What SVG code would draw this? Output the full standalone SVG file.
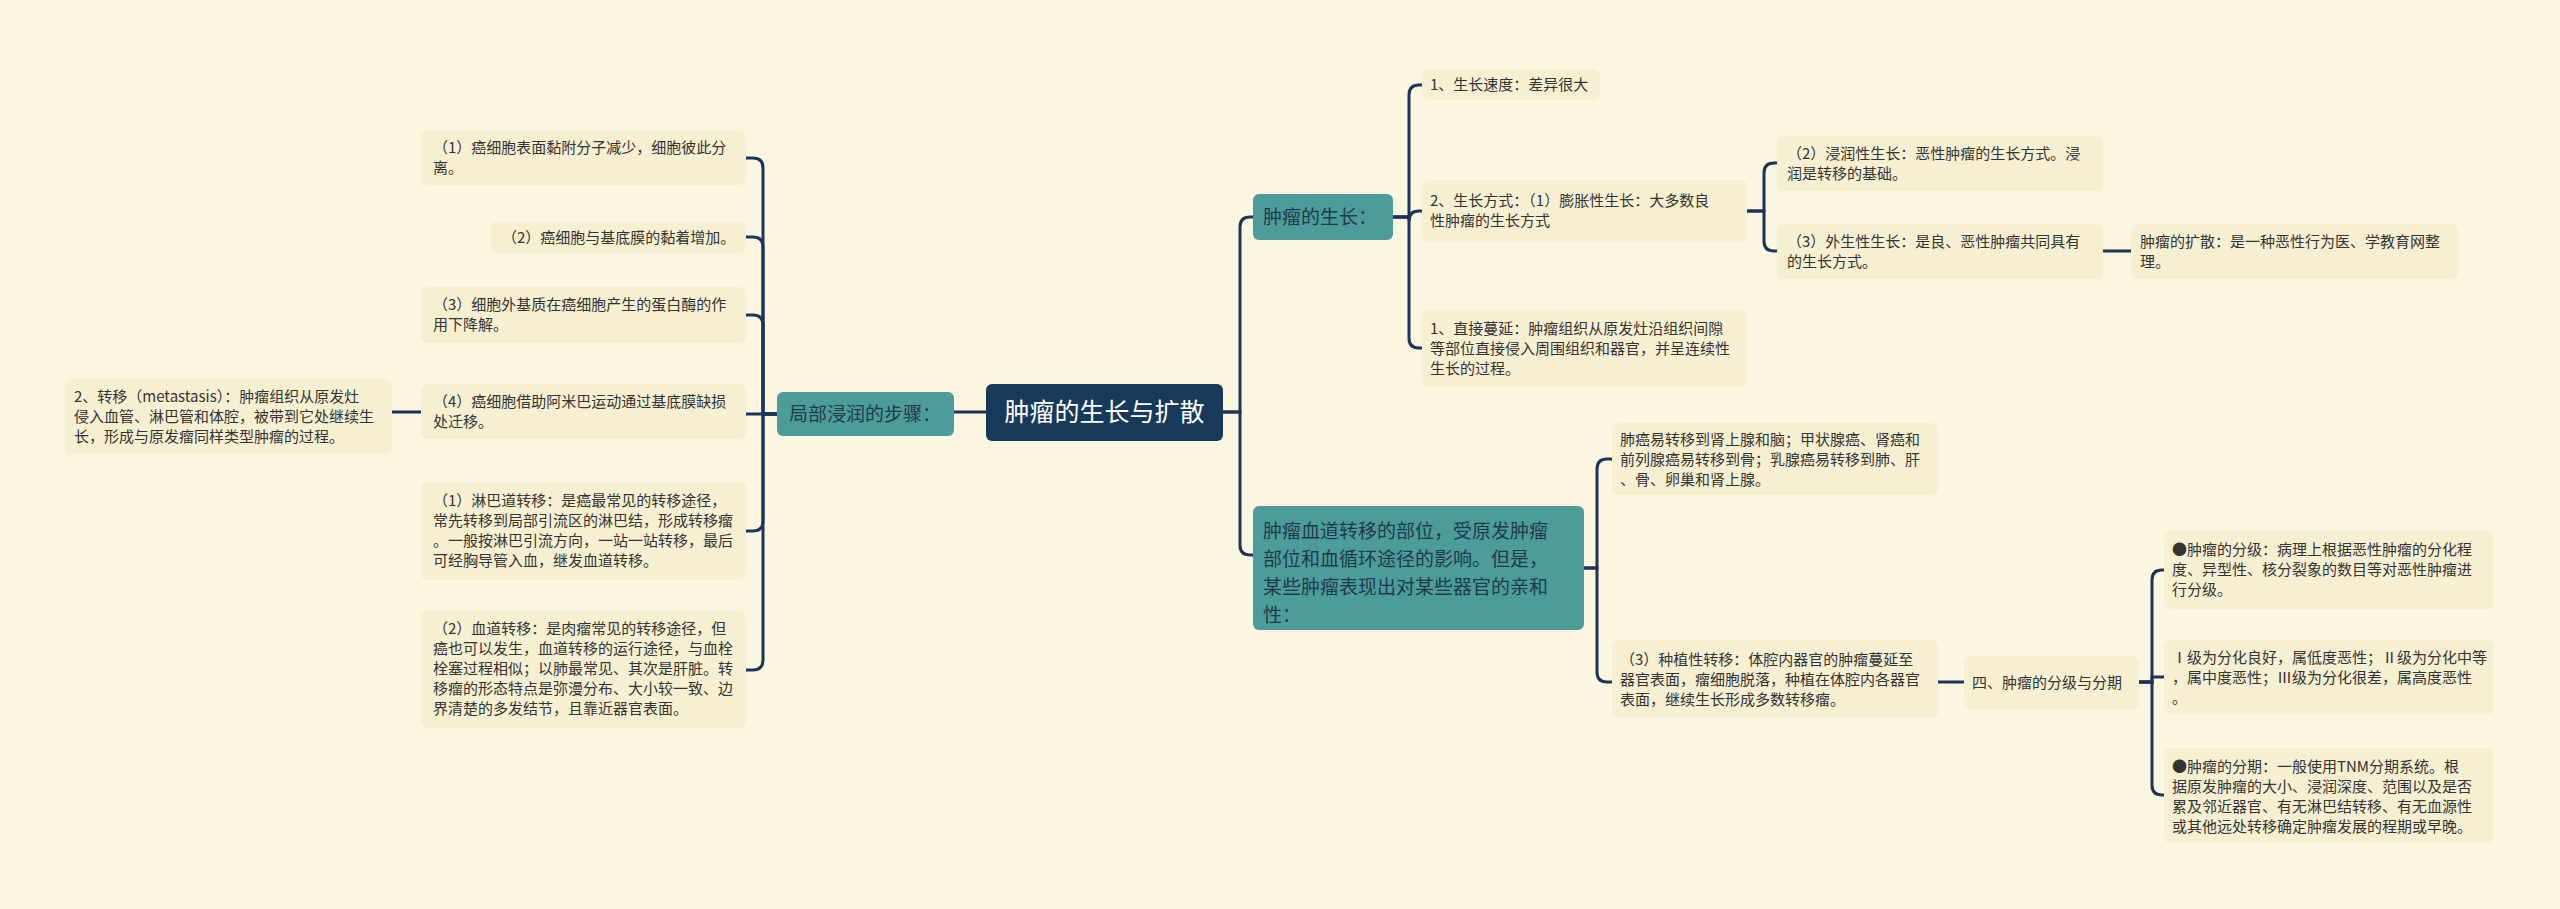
<svg xmlns="http://www.w3.org/2000/svg" width="2560" height="909" viewBox="0 0 2560 909">
<style>
.leaf rect{fill:#f7efd1}
.leaf text{font-family:"Noto Sans CJK SC","Noto Sans",sans-serif;font-size:15px;fill:#333}
.teal rect{fill:#4c9c9c}
.teal text{font-family:"Noto Sans CJK SC","Noto Sans",sans-serif;font-size:19px;fill:#1f3a4a}
.c path{fill:none;stroke:#1c3457;stroke-width:3}
</style>
<rect width="2560" height="909" fill="#fbf6e0"/>
<g class="c">
<path d="M986,412 H954"/>
<path d="M777,414 H763 V168 Q763,158 753,158 H746"/>
<path d="M777,414 H763 V247 Q763,237 753,237 H746"/>
<path d="M777,414 H763 V325 Q763,315 753,315 H746"/>
<path d="M777,414 H746"/>
<path d="M777,414 H763 V521 Q763,531 753,531 H746"/>
<path d="M777,414 H763 V660 Q763,670 753,670 H746"/>
<path d="M421,412 H392"/>
<path d="M1223,412 H1240 V227 Q1240,217 1250,217 H1253"/>
<path d="M1223,412 H1240 V545 Q1240,555 1250,555 H1253"/>
<path d="M1393,217 H1409 V95 Q1409,85 1419,85 H1422"/>
<path d="M1393,217 H1409 V221 Q1409,211 1419,211 H1422"/>
<path d="M1393,217 H1409 V338 Q1409,348 1419,348 H1422"/>
<path d="M1747,211 H1764 V173 Q1764,163 1774,163 H1777"/>
<path d="M1747,211 H1764 V241 Q1764,251 1774,251 H1777"/>
<path d="M2103,251 H2131"/>
<path d="M1584,568 H1597 V469 Q1597,459 1607,459 H1612"/>
<path d="M1584,568 H1597 V672 Q1597,682 1607,682 H1612"/>
<path d="M1938,682 H1964"/>
<path d="M2139,682 H2152 V580 Q2152,570 2162,570 H2164"/>
<path d="M2139,682 H2152 V677 H2164"/>
<path d="M2139,682 H2152 V785 Q2152,795 2162,795 H2164"/>
</g>
<g id="center"><rect x="986" y="384" width="237" height="57" rx="6" fill="#173a5b"/><text x="1104.5" y="421" text-anchor="middle" font-family="Noto Sans CJK SC, Noto Sans, sans-serif" font-size="25" fill="#fff">肿瘤的生长与扩散</text></g>
<g id="jubu" class="teal"><rect x="777" y="392" width="177" height="44" rx="6"/><text x="789" y="421">局部浸润的步骤：</text></g>
<g id="L1" class="leaf"><rect x="421" y="131" width="325" height="54" rx="6"/><text x="433" y="153">（1）癌细胞表面黏附分子减少，细胞彼此分</text><text x="433" y="173">离。</text></g>
<g id="L2" class="leaf"><rect x="490" y="222" width="256" height="31" rx="6"/><text x="502" y="243">（2）癌细胞与基底膜的黏着增加。</text></g>
<g id="L3" class="leaf"><rect x="421" y="287" width="325" height="56" rx="6"/><text x="433" y="310">（3）细胞外基质在癌细胞产生的蛋白酶的作</text><text x="433" y="330">用下降解。</text></g>
<g id="L4" class="leaf"><rect x="421" y="384" width="325" height="55" rx="6"/><text x="433" y="407">（4）癌细胞借助阿米巴运动通过基底膜缺损</text><text x="433" y="427">处迁移。</text></g>
<g id="L5" class="leaf"><rect x="421" y="482" width="325" height="98" rx="6"/><text x="433" y="506">（1）淋巴道转移：是癌最常见的转移途径，</text><text x="433" y="526">常先转移到局部引流区的淋巴结，形成转移瘤</text><text x="433" y="546">。一般按淋巴引流方向，一站一站转移，最后</text><text x="433" y="566">可经胸导管入血，继发血道转移。</text></g>
<g id="L6" class="leaf"><rect x="421" y="611" width="325" height="117" rx="6"/><text x="433" y="634">（2）血道转移：是肉瘤常见的转移途径，但</text><text x="433" y="654">癌也可以发生，血道转移的运行途径，与血栓</text><text x="433" y="674">栓塞过程相似；以肺最常见、其次是肝脏。转</text><text x="433" y="694">移瘤的形态特点是弥漫分布、大小较一致、边</text><text x="433" y="714">界清楚的多发结节，且靠近器官表面。</text></g>
<g id="M" class="leaf"><rect x="65" y="379" width="327" height="75" rx="6"/><text x="74" y="402">2、转移（metastasis）：肿瘤组织从原发灶</text><text x="74" y="422">侵入血管、淋巴管和体腔，被带到它处继续生</text><text x="74" y="442">长，形成与原发瘤同样类型肿瘤的过程。</text></g>
<g id="growth" class="teal"><rect x="1253" y="194" width="140" height="46" rx="6"/><text x="1263" y="224">肿瘤的生长：</text></g>
<g id="R1" class="leaf"><rect x="1422" y="69" width="178" height="31" rx="6"/><text x="1430" y="90">1、生长速度：差异很大</text></g>
<g id="R2" class="leaf"><rect x="1422" y="180" width="325" height="62" rx="6"/><text x="1430" y="206">2、生长方式：（1）膨胀性生长：大多数良</text><text x="1430" y="226">性肿瘤的生长方式</text></g>
<g id="R3" class="leaf"><rect x="1422" y="310" width="325" height="77" rx="6"/><text x="1430" y="334">1、直接蔓延：肿瘤组织从原发灶沿组织间隙</text><text x="1430" y="354">等部位直接侵入周围组织和器官，并呈连续性</text><text x="1430" y="374">生长的过程。</text></g>
<g id="R2a" class="leaf"><rect x="1777" y="136" width="326" height="55" rx="6"/><text x="1787" y="159">（2）浸润性生长：恶性肿瘤的生长方式。浸</text><text x="1787" y="179">润是转移的基础。</text></g>
<g id="R2b" class="leaf"><rect x="1777" y="224" width="326" height="55" rx="6"/><text x="1787" y="247">（3）外生性生长：是良、恶性肿瘤共同具有</text><text x="1787" y="267">的生长方式。</text></g>
<g id="R2c" class="leaf"><rect x="2131" y="224" width="327" height="55" rx="6"/><text x="2140" y="247">肿瘤的扩散：是一种恶性行为医、学教育网整</text><text x="2140" y="267">理。</text></g>
<g id="blood" class="teal"><rect x="1253" y="506" width="331" height="124" rx="6"/><text x="1263" y="538">肿瘤血道转移的部位，受原发肿瘤</text><text x="1263" y="566">部位和血循环途径的影响。但是，</text><text x="1263" y="594">某些肿瘤表现出对某些器官的亲和</text><text x="1263" y="622">性：</text></g>
<g id="B1" class="leaf"><rect x="1612" y="423" width="326" height="72" rx="6"/><text x="1620" y="445">肺癌易转移到肾上腺和脑；甲状腺癌、肾癌和</text><text x="1620" y="465">前列腺癌易转移到骨；乳腺癌易转移到肺、肝</text><text x="1620" y="485">、骨、卵巢和肾上腺。</text></g>
<g id="B2" class="leaf"><rect x="1612" y="640" width="326" height="78" rx="6"/><text x="1620" y="665">（3）种植性转移：体腔内器官的肿瘤蔓延至</text><text x="1620" y="685">器官表面，瘤细胞脱落，种植在体腔内各器官</text><text x="1620" y="705">表面，继续生长形成多数转移瘤。</text></g>
<g id="grade" class="leaf"><rect x="1964" y="656" width="175" height="53" rx="6"/><text x="1972" y="688">四、肿瘤的分级与分期</text></g>
<g id="G1" class="leaf"><rect x="2164" y="531" width="330" height="78" rx="6"/><text x="2172" y="555">●肿瘤的分级：病理上根据恶性肿瘤的分化程</text><text x="2172" y="575">度、异型性、核分裂象的数目等对恶性肿瘤进</text><text x="2172" y="595">行分级。</text></g>
<g id="G2" class="leaf"><rect x="2164" y="640" width="330" height="74" rx="6"/><text x="2172" y="663">Ⅰ级为分化良好，属低度恶性；Ⅱ级为分化中等</text><text x="2172" y="683">，属中度恶性；Ⅲ级为分化很差，属高度恶性</text><text x="2172" y="703">。</text></g>
<g id="G3" class="leaf"><rect x="2164" y="748" width="330" height="95" rx="6"/><text x="2172" y="772">●肿瘤的分期：一般使用TNM分期系统。根</text><text x="2172" y="792">据原发肿瘤的大小、浸润深度、范围以及是否</text><text x="2172" y="812">累及邻近器官、有无淋巴结转移、有无血源性</text><text x="2172" y="832">或其他远处转移确定肿瘤发展的程期或早晚。</text></g>
</svg>
